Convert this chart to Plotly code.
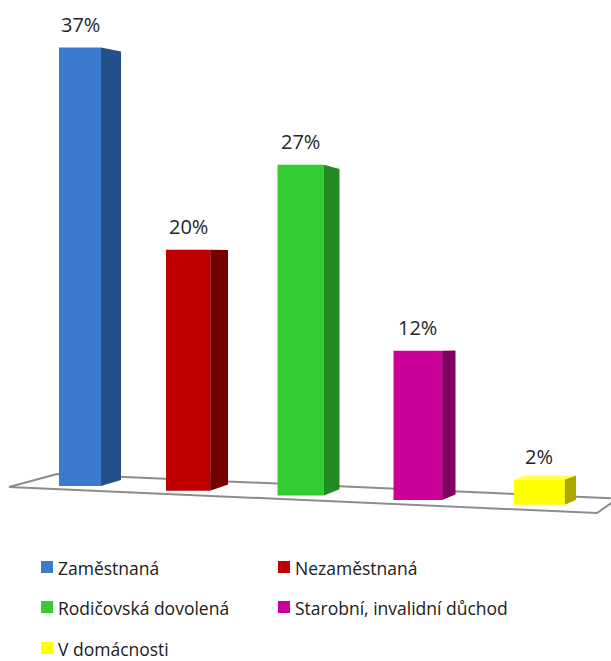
import plotly.graph_objects as go

# ---- data ----
categories = ["Zaměstnaná", "Nezaměstnaná", "Rodičovská dovolená",
              "Starobní, invalidní důchod", "V domácnosti"]
values = [37, 20, 27, 12, 2]
labels = ["37%", "20%", "27%", "12%", "2%"]

front_colors = ["#3A7BD0", "#C00000", "#33CC33", "#CC0099", "#FFFF00"]
side_colors = ["#24508A", "#760000", "#228A22", "#830063", "#A8A800"]
top_colors = ["#5A93DC", "#D43030", "#5BD85B", "#E040B5", "#FFFF55"]

# ---- pseudo-3D projection parameters (layout / style) ----
W, H = 611, 661
Y0, S = 486.0, 11.85          # pixel of value 0 for the first bar, px per percent


def pct(ypix):
    return (Y0 - ypix) / S


fig = go.Figure()

# floor
floor_pts = [(9, 487), (57, 474), (618, 498.5), (597, 513)]
path = "M " + " L ".join(f"{x},{pct(y)}" for x, y in floor_pts) + " Z"
fig.add_shape(type="path", path=path, xref="x", yref="y",
              line=dict(color="#8C8C8C", width=2), fillcolor="white", layer="below")

xs, hs, bases, widths = [], [], [], []
annotations = []
for i, v in enumerate(values):
    xl = 59 + 107 * i + 2.25 * i * (i - 1)
    w = 42 + 2.2 * i
    sw = 20 - 2.2 * i
    xr = xl + w
    base = pct(486 + 4.7 * i)
    h = v * (11.85 + 0.2 * i) / S
    top = base + h
    eye = pct(223 + 40 * i)
    c = 0.0229 + 0.0045 * i

    def back(p, eye=eye, c=c):
        return p + (eye - p) * c

    xs.append(xl + w / 2)
    hs.append(h)
    bases.append(base)
    widths.append(w)

    # side face
    fig.add_trace(go.Scatter(
        x=[xr, xr + sw, xr + sw, xr, xr],
        y=[base, back(base), back(top), top, base],
        mode="lines", fill="toself", fillcolor=side_colors[i],
        line=dict(width=0, color=side_colors[i]), hoverinfo="skip"))
    # top face when visible
    if back(top) > top:
        fig.add_trace(go.Scatter(
            x=[xl, xr, xr + sw, xl + sw, xl],
            y=[top, top, back(top), back(top), top],
            mode="lines", fill="toself", fillcolor=top_colors[i],
            line=dict(width=0, color=top_colors[i]), hoverinfo="skip"))

    annotations.append(dict(
        x=xl + w / 2, y=top, xref="x", yref="y", text=labels[i],
        showarrow=False, yanchor="bottom", yshift=8,
        font=dict(family="Open Sans", size=20, color="#262626")))

# front faces
fig.add_trace(go.Bar(
    x=xs, y=hs, base=bases, width=widths,
    marker=dict(color=front_colors, line=dict(width=0)),
    hovertext=categories, hoverinfo="text"))

# legend (manual, two columns)
leg_cols = [41, 278]
leg_rows = [567, 607, 648]
for i, name in enumerate(categories):
    cx = leg_cols[i % 2]
    cy = leg_rows[i // 2]
    fig.add_shape(type="rect", xref="paper", yref="paper",
                  x0=cx / W, x1=(cx + 12) / W,
                  y0=1 - (cy + 6) / H, y1=1 - (cy - 6) / H,
                  fillcolor=front_colors[i], line=dict(width=0))
    annotations.append(dict(
        x=(cx + 15) / W, y=1 - (cy + 1) / H, xref="paper", yref="paper",
        text=name, showarrow=False, xanchor="left", yanchor="middle",
        font=dict(family="Open Sans", size=17.5, color="#202020")))

fig.update_layout(
    width=W, height=H, autosize=False,
    margin=dict(l=0, r=0, t=0, b=0),
    paper_bgcolor="white", plot_bgcolor="white",
    showlegend=False, annotations=annotations,
    xaxis=dict(range=[0, W], visible=False, fixedrange=True),
    yaxis=dict(range=[pct(H), pct(0)], visible=False, fixedrange=True),
)

fig.write_html(
    "out.html",
    config={"displayModeBar": False},
    post_script="document.body.style.margin='0';document.body.style.overflow='hidden';",
)
